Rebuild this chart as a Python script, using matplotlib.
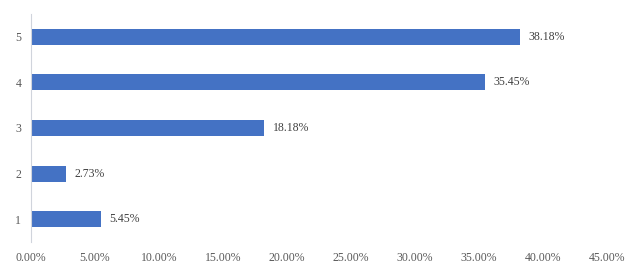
import matplotlib
matplotlib.use("Agg")
import matplotlib.pyplot as plt

categories = ["1", "2", "3", "4", "5"]
values = [5.45, 2.73, 18.18, 35.45, 38.18]
xticks = [0, 5, 10, 15, 20, 25, 30, 35, 40, 45]

plt.rcParams['font.family'] = ['Liberation Serif', 'DejaVu Serif']

fig = plt.figure(figsize=(6.41, 2.72), dpi=100)
ax = fig.add_axes([31/641, 30/272, (607-31)/641, 228/272])

pos = range(len(categories))
bars = ax.barh(pos, values, height=0.35, color="#4472C4")
for p, v in zip(pos, values):
    ax.text(v + 0.7, p, f"{v:.2f}%", va="center", ha="left",
            fontsize=8.5, color="#404040")

ax.set_xlim(0, 45)
ax.set_ylim(-0.5, 4.5)
ax.set_yticks(list(pos))
ax.set_yticklabels(categories)
ax.set_xticks(xticks)
ax.set_xticklabels([f"{t:.2f}%" for t in xticks])
ax.tick_params(axis="both", length=0, labelsize=8.5, labelcolor="#595959")
ax.tick_params(axis="x", pad=7)
ax.tick_params(axis="y", pad=7)

for s in ["top", "right", "bottom"]:
    ax.spines[s].set_visible(False)
ax.spines["left"].set_color("#d0d4dc")
ax.spines["left"].set_linewidth(0.8)

fig.savefig("out.png", dpi=100)
